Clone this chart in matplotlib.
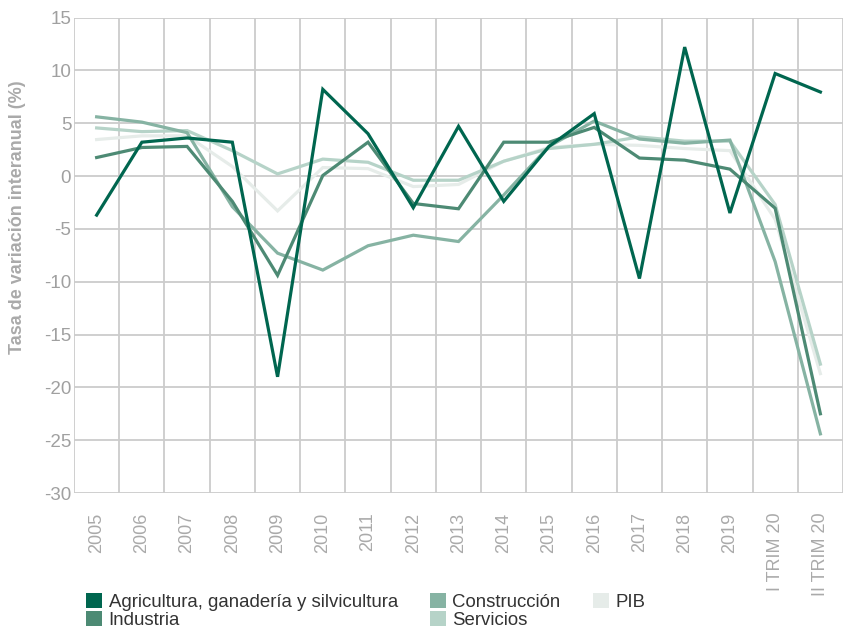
import numpy as np
import matplotlib
matplotlib.use("Agg")
import matplotlib.pyplot as plt
from matplotlib.patches import Patch

plt.rcParams["font.family"] = ["Liberation Sans", "DejaVu Sans"]
plt.rcParams["axes.unicode_minus"] = False

categorias = ["2005", "2006", "2007", "2008", "2009", "2010", "2011", "2012",
              "2013", "2014", "2015", "2016", "2017", "2018", "2019",
              "I TRIM 20", "II TRIM 20"]

agricultura = [-3.7, 3.2, 3.6, 3.2, -19.0, 8.2, 4.0, -3.0, 4.7, -2.4, 2.8, 5.9,
               -9.7, 12.2, -3.5, 9.7, 7.95]
industria = [1.75, 2.7, 2.8, -2.4, -9.4, 0.05, 3.2, -2.6, -3.1, 3.2, 3.2, 4.6,
             1.7, 1.5, 0.65, -3.05, -22.5]
construccion = [5.6, 5.1, 4.1, -2.9, -7.3, -8.9, -6.6, -5.6, -6.2, -1.8, 2.8, 5.2,
                3.5, 3.1, 3.4, -8.1, -24.4]
servicios = [4.55, 4.2, 4.3, 2.4, 0.2, 1.6, 1.3, -0.4, -0.4, 1.4, 2.6, 3.0,
             3.7, 3.3, 3.3, -2.7, -17.8]
pib = [3.45, 3.8, 3.8, 0.9, -3.3, 0.8, 0.7, -1.0, -0.8, 1.4, 2.7, 3.0,
       2.9, 2.6, 2.4, -4.1, -18.7]

nombres = ["Agricultura, ganadería y silvicultura", "Industria", "Construcción",
           "Servicios", "PIB"]
colores = ["#00664f", "#4d8a74", "#86b3a3", "#b6d3c8", "#e6ece9"]
series = [agricultura, industria, construccion, servicios, pib]

gris = "#a0a0a0"

fig = plt.figure(figsize=(8.43, 6.32), dpi=100)
ax = fig.add_axes([0.0878, 0.2199, 0.9122, 0.7524])

x = np.arange(len(categorias))
# dibujar de la más clara a la más oscura
for serie, color in reversed(list(zip(series, colores))):
    ax.plot(x, serie, color=color, linewidth=2.3, solid_joinstyle="miter", zorder=3)

ax.set_ylim(-30, 15)
ax.set_yticks(np.arange(-30, 16, 5))
ax.set_xlim(-0.5, 16.27)
ax.set_xticks(x)
ax.set_xticklabels(categorias, rotation=90, color="#aaaaaa", fontsize=13)
ax.set_xticks(np.arange(-0.5, 16.6, 1), minor=True)
ax.tick_params(axis="x", which="both", length=0, pad=14)
ax.tick_params(axis="y", length=0, labelsize=13.5, labelcolor=gris, pad=2)

ax.grid(False)
ax.grid(True, which="minor", axis="x", color="#cccccc", linewidth=1.3, zorder=0)
ax.grid(True, which="major", axis="y", color="#cccccc", linewidth=1.3, zorder=0)
for s in ax.spines.values():
    s.set_visible(False)

# etiqueta del eje y, algo por encima del centro como en el original
fig.text(18 / 843, 1 - 217 / 632, "Tasa de variación interanual (%)", rotation=90,
         ha="center", va="center", color="#aaaaaa", fontsize=13, fontweight="bold")

handles = [Patch(facecolor=c, edgecolor="none") for c in colores]
fig.legend(handles, nombres, loc="upper left", bbox_to_anchor=(0.087, 0.082),
           ncol=3, frameon=False, handlelength=0.86, handleheight=0.86,
           handletextpad=0.33, columnspacing=1.75, labelspacing=0.0,
           borderpad=0.2, fontsize=13.4, labelcolor="#333333")

fig.savefig("out.png", dpi=100)
